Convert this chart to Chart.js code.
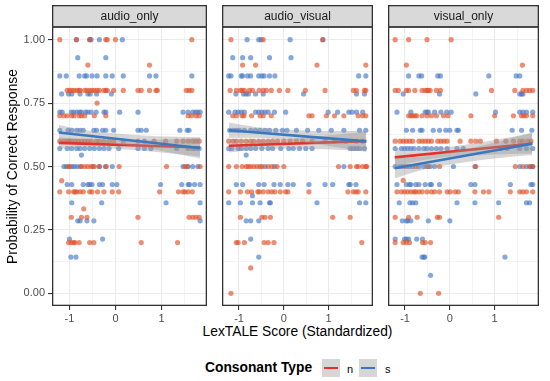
<!DOCTYPE html>
<html>
<head>
<meta charset="utf-8">
<script src="https://cdn.jsdelivr.net/npm/chart.js@4.4.0/dist/chart.umd.min.js"></script>
<style>
  body { margin: 0; background: #fff; width: 550px; height: 381px; position: relative; overflow: hidden;
         font-family: "Liberation Sans", Arial, sans-serif; }
  canvas { position: absolute; top: 0; }
  .xtitle { position: absolute; left: 52px; width: 491px; top: 324px; text-align: center;
            font-size: 13.8px; line-height: 16px; color: #000; }
  .legend-title { position: absolute; left: 205px; top: 360px; font-size: 13.8px; line-height: 16px; font-weight: bold; color: #000; }
  .key { position: absolute; top: 359px; width: 18px; height: 18px; background: #D6D6D6; }
  .key i { position: absolute; left: 2px; right: 2px; top: 7.7px; height: 2.6px; }
  .key-label { position: absolute; top: 362.7px; font-size: 11px; line-height: 13px; color: #000; }
</style>
</head>
<body>
<canvas id="c1" width="211" height="324" style="left:0"></canvas>
<canvas id="c2" width="159" height="324" style="left:218px"></canvas>
<canvas id="c3" width="159" height="324" style="left:384px"></canvas>
<div class="xtitle">LexTALE Score (Standardized)</div>
<div class="legend-title">Consonant Type</div>
<div class="key" style="left:322px"><i style="background:#E2342A"></i></div>
<span class="key-label" style="left:347px">n</span>
<div class="key" style="left:359px"><i style="background:#3B78C2"></i></div>
<span class="key-label" style="left:385px">s</span>

<script>
/* ── 패널 / 축 ───────────────────────────── */
const facets  = ['audio_only', 'audio_visual', 'visual_only'];
const xLimits = [-1.38, 1.99];
const yLimits = [-0.05, 1.05];
const xTicks  = [-1, -0.5, 0, 0.5, 1, 1.5];
const yTicks  = [0, 0.125, 0.25, 0.375, 0.5, 0.625, 0.75, 0.875, 1];

/* ── 관측값: [정답률, [LexTALE x...]] ─────── */
const aoN = [
  [1.00,  [-1.21, -0.85, -0.56, -0.21, -0.18, 0.0, 1.66]],
  [0.90,  [-0.60, 0.74]],
  [0.80,  [-1.05, -1.0, -0.95, -0.9, -0.84, -0.79, -0.77, -0.67, -0.62, -0.56, -0.51, -0.46, -0.4, -0.35, -0.25, -0.21, -0.18, -0.04, 0.17, 0.49, 0.56, 0.74, 0.88, 0.91, 1.54, 1.6, 1.66]],
  [0.75,  [-0.40]],
  [0.70,  [-1.21, -1.12, -1.05, -0.95, -0.9, -0.79, -0.74, -0.67, -0.46, -0.21, 1.58, 1.65, 1.75, 1.82]],
  [0.60,  [-1.21, -1.12, -1.05, -1.0, -0.95, -0.88, -0.81, -0.74, -0.67, -0.6, -0.53, -0.42, -0.35, -0.25, -0.14, -0.04, 0.17, 0.49, 0.63, 0.84, 1.09, 1.33, 1.47, 1.58, 1.68, 1.75, 1.82]],
  [0.50,  [-1.02, -1.0, -0.74, -0.67, -0.6, -0.53, -0.46, -0.35, -0.2, 0.08, 1.11, 1.51, 1.56, 1.84]],
  [0.444, [-1.17]],
  [0.40,  [-1.21, -1.02, -0.91, -0.88, -0.84, -0.77, -0.7, -0.56, -0.51, -0.39, -0.25, -0.07, 0.07, 0.96, 1.37, 1.47, 1.51, 1.58, 1.67]],
  [0.333, [-0.69]],
  [0.30,  [-0.96, -0.74, -0.62, 0.49, 1.6, 1.68, 1.75, 1.82]],
  [0.20,  [-1.02, -0.96, -0.91, -0.88, -0.79, -0.56, -0.47, 0.56, 1.35]],
];
const aoS = [
  [1.00,  [-0.85, -0.56, -0.53, -0.35, 0.15]],
  [0.929, [-0.82, -0.21]],
  [0.857, [-1.21, -1.07, -0.79, -0.67, -0.63, -0.51, -0.40, -0.21, -0.07, 0.17, 0.74, 0.88, 1.66]],
  [0.786, [-1.17, -1.02, -0.95, -0.77, -0.6, -0.55, -0.41, -0.09]],
  [0.714, [-1.21, -1.16, -0.96, -0.91, -0.84, -0.78, -0.74, -0.65, -0.6, -0.53, -0.42, -0.25, -0.21, 0.09, 0.49, 1.47, 1.58, 1.68, 1.74, 1.79, 1.84]],
  [0.643, [-1.21, -1.03, -0.95, -0.84, -0.77, -0.7, -0.47, -0.41, -0.28, -0.21, -0.04, 0.49, 0.56, 0.67, 1.4, 1.56, 1.6]],
  [0.571, [-1.21, -1.05, -0.95, -0.84, -0.77, -0.67, -0.56, -0.46, -0.35, -0.25, -0.14, 0.07, 0.49, 0.63, 0.77, 1.33, 1.58, 1.68, 1.75, 1.82]],
  [0.545, [-0.74]],
  [0.50,  [-1.12, -1.07, -0.95, -0.9, -0.84, -0.77, -0.49, -0.35, -0.22, -0.07, 1.47, 1.58, 1.68, 1.79]],
  [0.429, [-1.05, -0.95, -0.7, -0.6, -0.56, -0.51, -0.35, -0.28, -0.07, 0.03, 0.98, 1.44, 1.58, 1.61, 1.72, 1.84]],
  [0.357, [-0.95, -0.3, 1.1, 1.84]],
  [0.286, [-0.82, -0.77, -0.62, -0.47, 1.84]],
  [0.214, [-1.0, -0.28]],
  [0.143, [-0.97, -0.86]],
];

const avN = [
  [1.00,  [-1.18, -0.46, 0.87]],
  [0.90,  [-0.92, -0.63, 0.74, 1.83]],
  [0.80,  [-1.2, -1.06, -0.97, -0.93, -0.88, -0.77, -0.7, -0.55, -0.46, -0.39, -0.28, -0.1, 0.09, 0.48, 0.92, 1.55, 1.62, 1.8, 1.83]],
  [0.70,  [-1.14, -1.06, -0.93, -0.89, -0.72, -0.53, -0.46, -0.28, 0.56, 0.63, 0.95, 1.13, 1.34, 1.66, 1.76, 1.83]],
  [0.60,  [-1.23, -1.13, -1.06, -0.95, -0.84, -0.74, -0.67, -0.56, -0.46, -0.35, -0.25, -0.14, 0.0, 0.14, 0.28, 0.42, 0.63, 0.92, 1.13, 1.38, 1.62, 1.76]],
  [0.50,  [-1.23, -1.06, -0.93, -0.84, -0.79, -0.74, -0.67, -0.6, -0.53, -0.49, -0.35, -0.27, -0.15, 0.0, 1.22, 1.48, 1.62, 1.66, 1.76, 1.83, 1.85]],
  [0.40,  [-1.23, -0.97, -0.81, -0.72, -0.58, -0.55, -0.46, -0.35, -0.27, -0.2, -0.08, 0.04, 0.09, 0.56, 1.43, 1.55, 1.61, 1.66, 1.83]],
  [0.30,  [-0.97, -0.49, -0.42, -0.3, 1.09, 1.48]],
  [0.20,  [-1.06, -1.02, -0.88, -0.44, -0.35, -0.22, 1.74]],
  [0.10,  [-0.74]],
  [0.00,  [-1.18]],
];
const avS = [
  [1.00,  [-0.82, -0.56, -0.51, 0.14, 0.87]],
  [0.929, [-1.14, -0.92, -0.74, -0.32, 0.16]],
  [0.857, [-1.23, -1.18, -0.95, -0.92, -0.81, -0.74, -0.56, -0.49, -0.44, -0.32, -0.2, 1.67, 1.83]],
  [0.786, [-1.07, -0.9, -0.84, -0.79, -0.63, -0.46, 0.44, 1.62, 1.8]],
  [0.714, [-1.23, -1.09, -1.02, -0.95, -0.88, -0.63, -0.56, -0.49, -0.42, -0.35, -0.21, 0.04, 0.99, 1.2, 1.45, 1.52, 1.62, 1.76]],
  [0.643, [-1.21, -1.13, -1.06, -0.99, -0.88, -0.74, -0.63, -0.53, -0.42, -0.32, -0.18, -0.03, 0.07, 0.28, 0.53, 0.78, 1.06, 1.34, 1.69, 1.83]],
  [0.571, [-1.23, -1.16, -1.02, -0.95, -0.84, -0.74, -0.63, -0.49, -0.35, -0.25, -0.07, 0.11, 0.21, 0.35, 0.49, 0.63, 1.48, 1.55, 1.62, 1.69, 1.8]],
  [0.545, [-0.84]],
  [0.50,  [-0.42, -0.21, 1.34]],
  [0.429, [-1.06, -0.92, -0.56, -0.44, -0.22, -0.08, 0.09, 0.21, 0.56, 0.92, 1.09, 1.45, 1.48, 1.61]],
  [0.385, [-0.70]],
  [0.357, [-1.23, -0.97, -0.7, -0.53, -0.32, -0.3, 0.74, 1.69, 1.83]],
  [0.286, [-0.84, -0.74, -0.56]],
  [0.214, [-0.74]],
  [0.143, [-0.56]],
];

const voN = [
  [1.00,  [-1.22, -0.92, -0.51, 0.03]],
  [0.90,  [-0.97, 1.62]],
  [0.80,  [-1.22, -1.15, -0.97, -0.92, -0.78, -0.62, -0.55, -0.51, -0.48, -0.44, -0.30, -0.21, 0.93, 1.45, 1.63, 1.71, 1.78, 1.85]],
  [0.70,  [-0.92, -0.87, -0.83, -0.78, -0.74, -0.62, -0.51, -0.41, -0.30, -0.14, -0.04, 0.47, 1.0, 1.42, 1.6, 1.65, 1.71, 1.85]],
  [0.60,  [-1.22, -1.11, -1.04, -0.97, -0.90, -0.83, -0.69, -0.62, -0.55, -0.48, -0.41, -0.27, -0.20, -0.13, -0.06, 0.23, 0.47, 0.58, 0.68, 1.04, 1.25, 1.42, 1.56, 1.63, 1.74, 1.81]],
  [0.50,  [-0.97, -0.76, -0.48, -0.23, 0.58, 1.46, 1.63, 1.78, 1.85]],
  [0.445, [-1.04]],
  [0.40,  [-1.18, -1.08, -1.01, -0.94, -0.87, -0.80, -0.76, -0.69, -0.62, -0.51, -0.41, -0.34, -0.23, -0.06, 0.01, 0.12, 0.19, 0.56, 0.75, 0.87, 1.35, 1.56, 1.63, 1.71, 1.85]],
  [0.30,  [-1.22, -0.92, -0.73, -0.28, -0.23, 1.09]],
  [0.20,  [-1.22, -1.04, -0.97, -0.90, -0.61, -0.55, -0.43]],
  [0.00,  [-0.66, -0.25]],
];
const voS = [
  [0.857, [-0.92, -0.69, -0.63, -0.27, -0.21, 0.87, 1.48, 1.56]],
  [0.786, [-1.04, -0.23, 0.58, 1.56, 1.6, 1.63]],
  [0.714, [-1.18, -0.87, -0.55, -0.51, -0.48, -0.34, -0.20, -0.07, 0.03, 1.02, 1.56, 1.63, 1.71, 1.85]],
  [0.643, [-0.97, -0.83, -0.66, -0.62, -0.37, -0.23, -0.09, 0.0, 0.16, 0.19, 1.39, 1.6, 1.83]],
  [0.571, [-1.22, -1.08, -1.01, -0.94, -0.87, -0.80, -0.69, -0.58, -0.51, -0.41, -0.30, -0.20, -0.06, 0.16, 0.30, 1.14, 1.28, 1.56, 1.71, 1.85]],
  [0.50,  [-1.22, -1.11, -1.04, -0.90, -0.83, -0.69, -0.58, -0.51, -0.44, -0.34, 0.08, 0.56, 1.56, 1.71, 1.81, 1.85]],
  [0.429, [-1.18, -0.97, -0.90, -0.87, -0.76, -0.69, -0.55, -0.44, -0.41, -0.23, 0.47, 0.56, 1.35, 1.81, 1.85]],
  [0.357, [-1.13, -0.89, -0.83, -0.76, 0.16, 0.56, 1.09, 1.71, 1.78]],
  [0.286, [-1.06, -0.97, -0.94, -0.87, -0.48, 0.0]],
  [0.214, [-1.22, -1.01, -0.97, -0.92, -0.74, -0.61]],
  [0.143, [-0.62, -0.58, -0.56, 1.23]],
  [0.071, [-0.43]],
];

/* ── 회귀선 (양 끝) + 신뢰구간 ─────────────── */
const fitX  = [-1.23, 1.84];
const aoFitN = [0.593, 0.575];
const aoFitS = [0.634, 0.573];
const avFitN = [0.582, 0.600];
const avFitS = [0.643, 0.599];
const voFitN = [0.536, 0.591];
const voFitS = [0.493, 0.590];

const bandX = [-1.23, -0.6, 0, 0.9, 1.84];
const aoLoN = [0.571, 0.573, 0.570, 0.557, 0.539];
const aoHiN = [0.615, 0.605, 0.602, 0.605, 0.611];
const aoLoS = [0.604, 0.600, 0.590, 0.565, 0.531];
const aoHiS = [0.664, 0.642, 0.630, 0.619, 0.615];
const avLoN = [0.555, 0.568, 0.571, 0.568, 0.562];
const avHiN = [0.609, 0.604, 0.607, 0.620, 0.638];
const avLoS = [0.613, 0.613, 0.604, 0.584, 0.557];
const avHiS = [0.673, 0.655, 0.646, 0.640, 0.641];
const voLoN = [0.500, 0.525, 0.538, 0.546, 0.551];
const voHiN = [0.572, 0.569, 0.578, 0.602, 0.631];
const voLoS = [0.453, 0.487, 0.508, 0.530, 0.545];
const voHiS = [0.533, 0.539, 0.556, 0.590, 0.635];

const panels = [
  { pts: [aoN, aoS], fit: [aoFitN, aoFitS], lo: [aoLoN, aoLoS], hi: [aoHiN, aoHiS] },
  { pts: [avN, avS], fit: [avFitN, avFitS], lo: [avLoN, avLoS], hi: [avHiN, avHiS] },
  { pts: [voN, voS], fit: [voFitN, voFitS], lo: [voLoN, voLoS], hi: [voHiN, voHiS] },
];

const lineCol  = ['#E2342A', '#3B78C2'];
const pointCol = ['rgba(224,82,40,0.65)', 'rgba(70,122,200,0.65)'];
const bandCol  = 'rgba(153,153,153,0.4)';

Chart.defaults.font.family = '"Liberation Sans", Arial, sans-serif';

/* ── strip + 테두리 ────────────────────────── */
const facetFrame = {
  id: 'facetFrame',
  afterDraw(chart, args, opts) {
    const { ctx, chartArea: a } = chart;
    ctx.save();
    ctx.fillStyle = '#D9D9D9';
    ctx.fillRect(a.left, 5, a.right - a.left, a.top - 5);
    ctx.strokeStyle = '#333333';
    ctx.lineWidth = 1.3;
    ctx.strokeRect(a.left + 0.65, 5.65, a.right - a.left - 1.3, a.top - 5 - 0.65);
    ctx.strokeRect(a.left + 0.65, a.top, a.right - a.left - 1.3, a.bottom - a.top - 0.65);
    ctx.fillStyle = '#1A1A1A';
    ctx.font = '12px "Liberation Sans", Arial, sans-serif';
    ctx.textAlign = 'center';
    ctx.textBaseline = 'middle';
    ctx.fillText(opts.label, (a.left + a.right) / 2, (5 + a.top) / 2 + 0.5);
    ctx.restore();
  }
};

function grid(step, ticksOn) {
  const major = v => Math.abs(v / step - Math.round(v / step)) < 1e-6;
  return {
    color: '#EBEBEB',
    lineWidth: c => major(c.tick.value) ? 1.1 : 0.55,
    drawTicks: ticksOn,
    tickLength: 4,
    tickWidth: 1.1,
    tickColor: c => major(c.tick.value) ? '#333333' : 'rgba(0,0,0,0)',
  };
}

function buildDatasets(p) {
  const ds = [];
  // 점 (맨 아래)
  p.pts.forEach((rows, g) => {
    ds.push({
      data: rows.flatMap(([y, xs]) => xs.map(x => ({ x, y }))),
      showLine: false,
      pointRadius: 2.6,
      pointBorderWidth: 0,
      pointBackgroundColor: pointCol[g],
      order: 10,
    });
  });
  // 그룹별 리본 + 선
  p.fit.forEach((fit, g) => {
    const loIdx = ds.length;
    ds.push({
      data: bandX.map((x, i) => ({ x, y: p.lo[g][i] })),
      borderColor: 'transparent', borderWidth: 0, pointRadius: 0,
      cubicInterpolationMode: 'monotone', fill: false,
      order: 8 - g * 3,
    });
    ds.push({
      data: bandX.map((x, i) => ({ x, y: p.hi[g][i] })),
      borderColor: 'transparent', borderWidth: 0, pointRadius: 0,
      cubicInterpolationMode: 'monotone',
      fill: { target: loIdx }, backgroundColor: bandCol,
      order: 8 - g * 3,
    });
    ds.push({
      data: fitX.map((x, i) => ({ x, y: fit[i] })),
      borderColor: lineCol[g], borderWidth: 2.6, pointRadius: 0,
      fill: false,
      order: 7 - g * 3,
    });
  });
  return ds;
}

function makePanel(id, idx) {
  const first = idx === 0;
  new Chart(document.getElementById(id), {
    type: 'line',
    data: { datasets: buildDatasets(panels[idx]) },
    options: {
      responsive: false,
      animation: false,
      events: [],
      layout: { padding: { top: 27, right: 0, left: 0, bottom: 0 } },
      plugins: {
        legend: { display: false },
        tooltip: { enabled: false },
        facetFrame: { label: facets[idx] },
      },
      scales: {
        x: {
          type: 'linear',
          min: xLimits[0], max: xLimits[1],
          afterBuildTicks: s => { s.ticks = xTicks.map(value => ({ value })); },
          afterFit: s => { s.height = 18; },
          border: { display: false },
          grid: grid(1, true),
          ticks: {
            autoSkip: false, maxRotation: 0, padding: 2,
            color: '#4D4D4D', font: { size: 11 },
            callback: v => Number.isInteger(v) ? String(v) : '',
          },
        },
        y: {
          type: 'linear',
          min: yLimits[0], max: yLimits[1],
          afterBuildTicks: s => { s.ticks = yTicks.map(value => ({ value })); },
          afterFit: s => { s.width = first ? 52 : 0; },
          border: { display: false },
          grid: grid(0.25, first),
          ticks: {
            display: first, autoSkip: false, padding: 3,
            color: '#4D4D4D', font: { size: 11 },
            callback: v => Math.abs(v * 4 - Math.round(v * 4)) < 1e-6 ? v.toFixed(2) : '',
          },
          title: {
            display: first,
            text: 'Probability of Correct Response',
            color: '#000', font: { size: 13.8 },
            padding: { top: 5, bottom: 0 },
          },
        },
      },
    },
    plugins: [facetFrame],
  });
}

makePanel('c1', 0);
makePanel('c2', 1);
makePanel('c3', 2);
</script>
</body>
</html>
